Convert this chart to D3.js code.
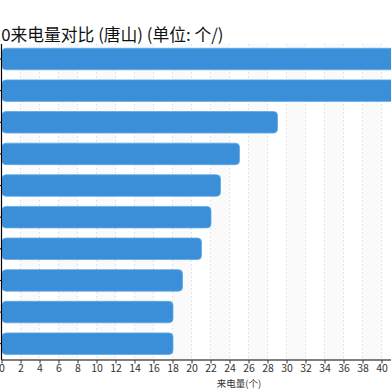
<!DOCTYPE html>
<html><head><meta charset="utf-8">
<script src="https://cdn.jsdelivr.net/npm/d3@7"></script>
<style>body{margin:0;background:#fff}svg{display:block}</style>
</head><body>
<svg id="c" width="391" height="391"></svg>
<script>
const categories = ["类别1","类别2","类别3","类别4","类别5","类别6","类别7","类别8","类别9","类别10"];
const values = [48, 45, 29, 25, 23, 22, 21, 19, 18, 18];
const xTicks = d3.range(0, 42, 2);
const titleText = "Top10来电量对比 (唐山) (单位: 个/)";
const xLabel = "来电量(个)";

(function () {
const svg = d3.select("#c");
const font = "'Noto Sans CJK SC','DejaVu Sans',sans-serif";
const x = d3.scaleLinear().domain([0, 44]).range([1.5, 1.5 + 44 * 9.5]);
const y = d3.scaleBand().domain(categories).range([43.2, 359.5]).paddingInner(0.32).paddingOuter(0.16);
const plotTop = 44, plotBottom = 360;
const gridTicks = d3.range(0, 46, 2);

// alternating bands
const g0 = svg.append("g");
for (let i = 0; i < gridTicks.length - 1; i++) {
  if (i % 2 === 1) {
    g0.append("rect").attr("x", x(gridTicks[i])).attr("y", plotTop)
      .attr("width", x(gridTicks[i+1]) - x(gridTicks[i])).attr("height", plotBottom - plotTop)
      .attr("fill", "#fafafa");
  }
}
// dotted grid
g0.selectAll("line.g").data(gridTicks.slice(1)).join("line")
  .attr("x1", d => x(d)).attr("x2", d => x(d)).attr("y1", plotTop).attr("y2", plotBottom)
  .attr("stroke", "#d6d6d6").attr("stroke-width", 0.8).attr("stroke-dasharray", "1.5,2.5");

// bars
svg.append("g").selectAll("rect").data(values).join("rect")
  .attr("x", x(0) + 0.5).attr("y", (d, i) => y(categories[i]))
  .attr("width", d => x(d) - x(0)).attr("height", y.bandwidth())
  .attr("rx", 4).attr("fill", "#3a8fd8").attr("stroke", "#5ea9ea").attr("stroke-width", 0.8);

// x axis
const xa = svg.append("g").attr("transform", `translate(0,${plotBottom})`)
  .call(d3.axisBottom(x).tickValues(xTicks).tickSize(3.5).tickPadding(1).tickFormat(d3.format("d")));
xa.select(".domain").attr("d", `M${x(0)},0H400`).attr("stroke", "#000").attr("stroke-width", 1);
xa.selectAll("text").attr("font-family", font).attr("font-size", 10.5).attr("fill", "#333");
xa.selectAll(".tick line").attr("stroke", "#333");

// y axis (category labels lie outside the visible area in the reference)
const ya = svg.append("g").attr("transform", `translate(${x(0)},0)`)
  .call(d3.axisLeft(y).tickSize(3.5).tickFormat(""));
ya.select(".domain").attr("d", `M0,${plotTop}V${plotBottom}`).attr("stroke", "#000").attr("stroke-width", 1.2);

// labels
svg.append("text").attr("x", 223.5).attr("y", 41).attr("text-anchor", "end")
  .attr("font-family", font).attr("font-size", 16.8).attr("fill", "#111").text(titleText);
svg.append("text").attr("x", 239).attr("y", 387).attr("text-anchor", "middle")
  .attr("font-family", font).attr("font-size", 9.5).attr("fill", "#333").text(xLabel);
})();
</script>
</body></html>
